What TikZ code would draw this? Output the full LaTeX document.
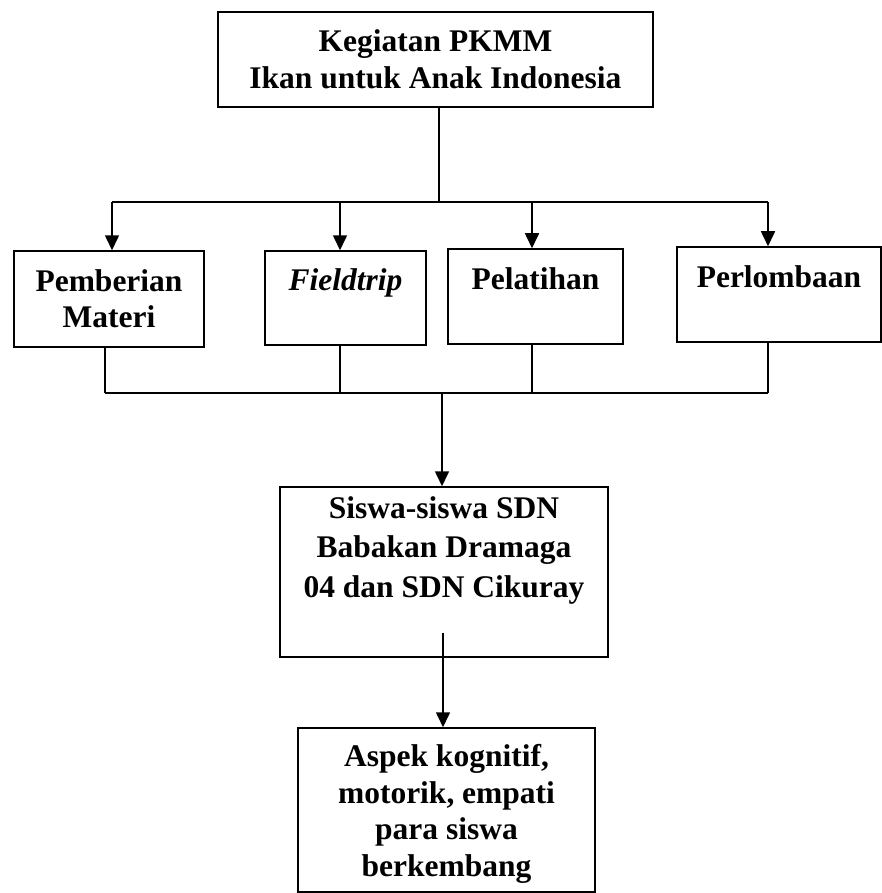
\documentclass[tikz,border=0pt]{standalone}
\usepackage{fontspec}
\setmainfont{Liberation Serif}
\usetikzlibrary{arrows.meta}
\begin{document}
\begin{tikzpicture}[x=1pt,y=-1pt,
  box/.style={draw, line width=1.5pt, align=center, inner sep=0pt},
  txt/.style={font=\bfseries\fontsize{31.5}{#1}\selectfont},
  wire/.style={line width=1.6pt},
  arr/.style={wire, -{Triangle[width=14pt,length=15pt]}}]
\useasboundingbox (0,0) rectangle (882,893);
% boxes
\node[box, txt=37, minimum width=435pt, minimum height=95pt] (top) at (435.5,59.5)
  {Kegiatan PKMM\\Ikan untuk Anak Indonesia};
\node[box, txt=36, minimum width=190pt, minimum height=96pt] (b1) at (109,299)
  {Pemberian\\Materi};
\node[box, txt=36, minimum width=161pt, minimum height=94pt] (b2) at (345.5,298)
  {\textit{Fieldtrip}\\\mbox{}};
\node[box, txt=36, minimum width=175pt, minimum height=95pt] (b3) at (535.5,296.5)
  {Pelatihan\\\mbox{}};
\node[box, txt=36, minimum width=204pt, minimum height=95pt] (b4) at (779,294.5)
  {Perlombaan\\\mbox{}};
\node[box, txt=39.5, minimum width=328pt, minimum height=170pt] (siswa) at (444,572)
  {Siswa-siswa SDN\\Babakan Dramaga\\04 dan SDN Cikuray\\[10.5pt]\mbox{}};
\node[box, txt=36.5, minimum width=297pt, minimum height=164pt] (bot) at (446.5,810)
  {\rule{0pt}{30pt}Aspek kognitif,\\motorik, empati\\para siswa\\berkembang};
% junction coordinates
\coordinate (j0) at (439,202);
\coordinate (a1) at (112,202);
\coordinate (a2) at (340,202);
\coordinate (a3) at (532,202);
\coordinate (a4) at (768,202);
\coordinate (c1) at (105,393);
\coordinate (c2) at (340,393);
\coordinate (c3) at (532,393);
\coordinate (c4) at (768,393);
\coordinate (cm) at (442,393);
\coordinate (sout) at (443,633);
% top fan-out
\draw[wire] (top.south -| j0) -- (j0);
\draw[wire] (a1) -- (a4);
\draw[arr] (a1) -- (a1 |- b1.north);
\draw[arr] (a2) -- (a2 |- b2.north);
\draw[arr] (a3) -- (a3 |- b3.north);
\draw[arr] (a4) -- (a4 |- b4.north);
% fan-in
\draw[wire] (c1 |- b1.south) -- (c1);
\draw[wire] (c2 |- b2.south) -- (c2);
\draw[wire] (c3 |- b3.south) -- (c3);
\draw[wire] (c4 |- b4.south) -- (c4);
\draw[wire] (c1) -- (c4);
\draw[arr] (cm) -- (cm |- siswa.north);
\draw[arr] (sout) -- (sout |- bot.north);
\end{tikzpicture}
\end{document}
